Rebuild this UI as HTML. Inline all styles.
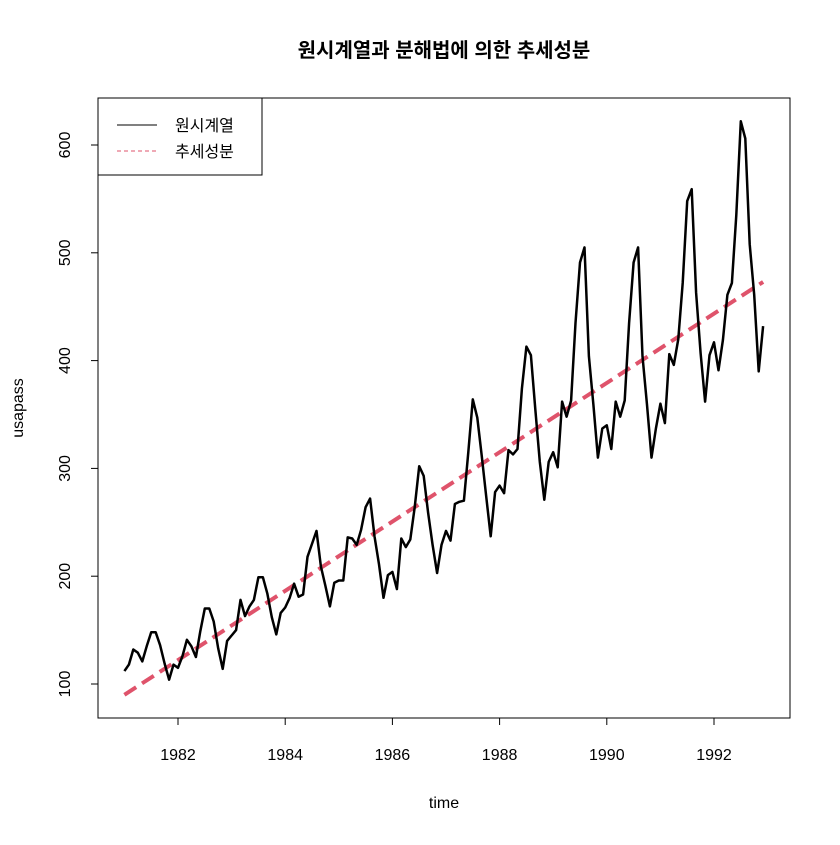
<!DOCTYPE html>
<html><head><meta charset="utf-8"><style>
body{margin:0;background:#fff;}
svg text{font-family:"Liberation Sans","Noto Sans CJK KR",sans-serif;}
</style></head><body>
<svg id="chart" width="840" height="840" xmlns="http://www.w3.org/2000/svg">
<rect width="840" height="840" fill="#fff"/>
<text x="444" y="57" text-anchor="middle" font-size="20" font-weight="bold">원시계열과 분해법에 의한 추세성분</text>
<rect x="98" y="98" width="692" height="620" fill="none" stroke="#000" stroke-width="1"/>
<g id="xaxis"></g>
<g id="yaxis"></g>
<text x="444" y="808" text-anchor="middle" font-size="16">time</text>
<text x="0" y="0" transform="translate(23,408) rotate(-90)" text-anchor="middle" font-size="16">usapass</text>
<g id="series"></g>
<g>
<rect x="98" y="98" width="164" height="77" fill="#fff" stroke="#000"/>
<line x1="117" y1="125" x2="157" y2="125" stroke="#000" stroke-width="1"/>
<text x="175" y="131" font-size="16">원시계열</text>
<line x1="117" y1="151" x2="157" y2="151" stroke="#DF536B" stroke-width="1" stroke-dasharray="4,3"/>
<text x="175" y="157" font-size="16">추세성분</text>
</g>
</svg>
<script>
const startYear = 1981;
const values = [112,118,132,129,121,135,148,148,136,119,104,118,
115,126,141,135,125,149,170,170,158,133,114,140,
145,150,178,163,172,178,199,199,184,162,146,166,
171,180,193,181,183,218,230,242,209,191,172,194,
196,196,236,235,229,243,264,272,237,211,180,201,
204,188,235,227,234,264,302,293,259,229,203,229,
242,233,267,269,270,315,364,347,312,274,237,278,
284,277,317,313,318,374,413,405,355,306,271,306,
315,301,362,348,363,435,491,505,404,359,310,337,
340,318,362,348,363,435,491,505,404,359,310,337,
360,342,406,396,420,472,548,559,463,407,362,405,
417,391,419,461,472,535,622,606,508,461,390,432];
const trendStart = [90];
const trendEnd = [473];
const xTicks = [1982,1984,1986,1988,1990,1992];
const yTicks = [100,200,300,400,500,600];
const NS="http://www.w3.org/2000/svg";
function X(t){return 178+(t-1982)*53.6;}
function Y(v){return 684-(v-100)*1.078;}
const xa=document.getElementById('xaxis'), ya=document.getElementById('yaxis'), ser=document.getElementById('series');
function mk(tag,attrs,parent){const e=document.createElementNS(NS,tag);for(const k in attrs)e.setAttribute(k,attrs[k]);parent.appendChild(e);return e;}
mk('line',{x1:X(xTicks[0]),x2:X(xTicks[xTicks.length-1]),y1:718,y2:718,stroke:'#000'},xa);
xTicks.forEach(t=>{
 const l=mk('line',{x1:X(t),x2:X(t),y1:718,y2:725,stroke:'#000'},xa);
 
 
 const tx=mk('text',{x:X(t),y:760,'text-anchor':'middle','font-size':16},xa);tx.textContent=t;
 
 
});
mk('line',{x1:98,x2:98,y1:Y(yTicks[0]),y2:Y(yTicks[yTicks.length-1]),stroke:'#000'},ya);
yTicks.forEach(v=>{
 const l=mk('line',{x1:91,x2:98,y1:Y(v),y2:Y(v),stroke:'#000'},ya);
 
 
 const tx=mk('text',{x:0,y:0,transform:`translate(70,${Y(v)}) rotate(-90)`,'text-anchor':'middle','font-size':16},ya);tx.textContent=v;
 
 
});
const tEnd=startYear+(values.length-1)/12;
const tr=mk('line',{x1:X(startYear),y1:Y(trendStart[0]),x2:X(tEnd),y2:Y(trendEnd[0]),stroke:'#DF536B','stroke-width':4,'stroke-dasharray':'14,7'},ser);


const pts=values.map((v,i)=>X(startYear+i/12).toFixed(1)+','+Y(v).toFixed(1)).join(' ');
const pl=mk('polyline',{points:pts,fill:'none',stroke:'#000','stroke-width':2.5,'stroke-linejoin':'round'},ser);


</script>
</body></html>
